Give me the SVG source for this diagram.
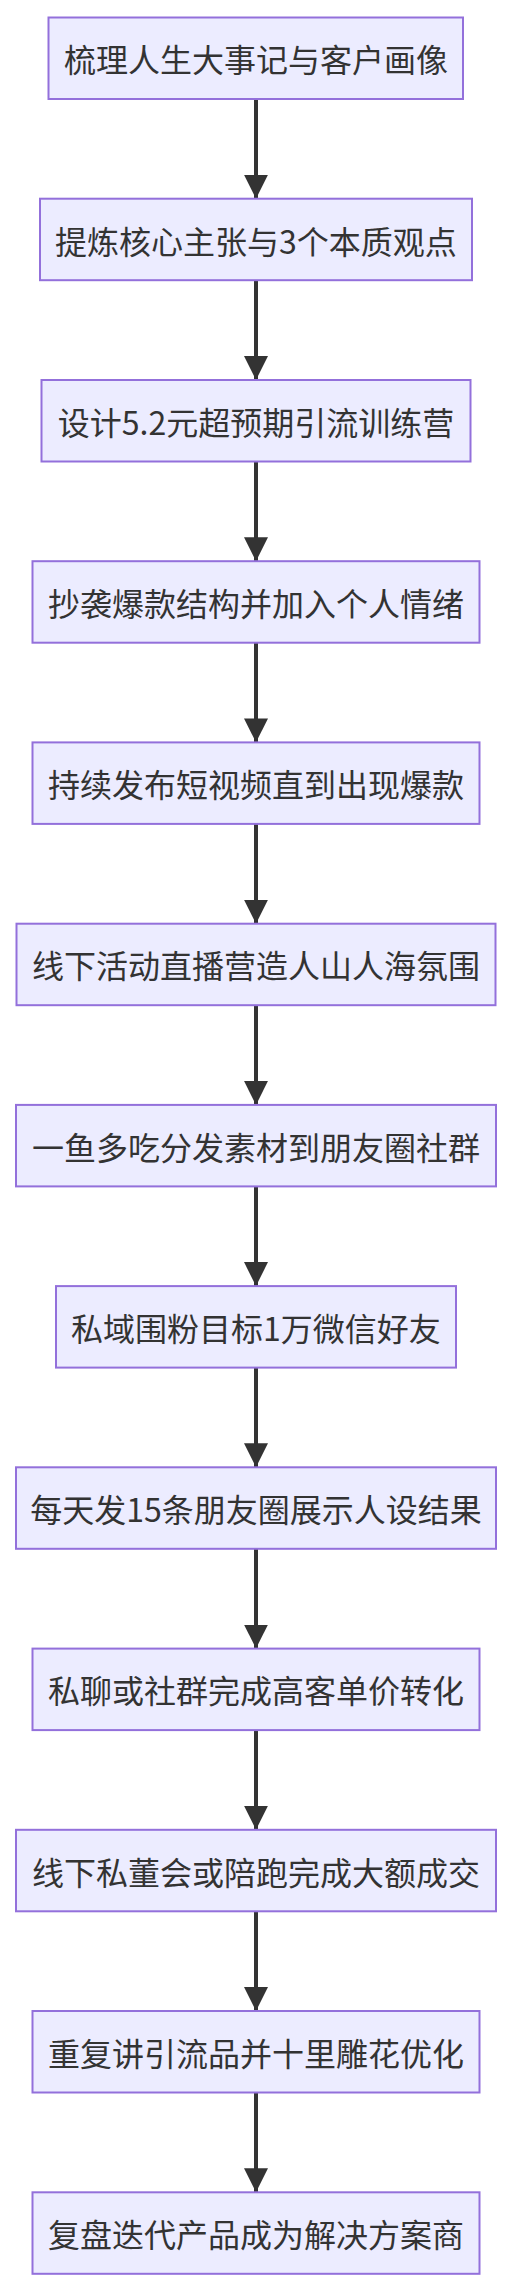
<svg xmlns="http://www.w3.org/2000/svg" width="512" height="2290" viewBox="0 0 512 2290">
<style>
.node rect{fill:#ECECFF;stroke:#9370DB;stroke-width:2}
.node text{font-family:"Noto Sans CJK SC","Noto Sans",sans-serif;font-size:32px;fill:#333;text-anchor:middle;dominant-baseline:central}
.edge{stroke:#333;stroke-width:4;fill:none}
</style>
<defs>
<marker id="arrow" markerUnits="userSpaceOnUse" markerWidth="24" markerHeight="24" refX="24" refY="12" orient="auto" viewBox="0 0 24 24">
<path d="M0,0 L24,12 L0,24 z" fill="#333"/>
</marker>
</defs>
<rect width="512" height="2290" fill="#fff"/>
<g id="edges">
<path class="edge" d="M256,99 L256,198.7" marker-end="url(#arrow)"/>
<path class="edge" d="M256,280.2 L256,380" marker-end="url(#arrow)"/>
<path class="edge" d="M256,461.5 L256,561.2" marker-end="url(#arrow)"/>
<path class="edge" d="M256,642.7 L256,742.4" marker-end="url(#arrow)"/>
<path class="edge" d="M256,823.9 L256,923.7" marker-end="url(#arrow)"/>
<path class="edge" d="M256,1005.2 L256,1104.9" marker-end="url(#arrow)"/>
<path class="edge" d="M256,1186.4 L256,1286.1" marker-end="url(#arrow)"/>
<path class="edge" d="M256,1367.6 L256,1467.3" marker-end="url(#arrow)"/>
<path class="edge" d="M256,1548.8 L256,1648.6" marker-end="url(#arrow)"/>
<path class="edge" d="M256,1730.1 L256,1829.8" marker-end="url(#arrow)"/>
<path class="edge" d="M256,1911.3 L256,2011" marker-end="url(#arrow)"/>
<path class="edge" d="M256,2092.5 L256,2192.3" marker-end="url(#arrow)"/>
</g>
<g id="n1" class="node"><rect x="48.5" y="17.5" width="414.5" height="81.5"/><text x="256" y="58.25">梳理人生大事记与客户画像</text></g>
<g id="n2" class="node"><rect x="40" y="198.7" width="432" height="81.5"/><text x="256" y="239.5">提炼核心主张与3个本质观点</text></g>
<g id="n3" class="node"><rect x="41.5" y="380" width="429" height="81.5"/><text x="256" y="420.7">设计5.2元超预期引流训练营</text></g>
<g id="n4" class="node"><rect x="32.5" y="561.2" width="447" height="81.5"/><text x="256" y="601.9">抄袭爆款结构并加入个人情绪</text></g>
<g id="n5" class="node"><rect x="32.5" y="742.4" width="447" height="81.5"/><text x="256" y="783.2">持续发布短视频直到出现爆款</text></g>
<g id="n6" class="node"><rect x="16.5" y="923.7" width="479" height="81.5"/><text x="256" y="964.4">线下活动直播营造人山人海氛围</text></g>
<g id="n7" class="node"><rect x="16" y="1104.9" width="480" height="81.5"/><text x="256" y="1145.6">一鱼多吃分发素材到朋友圈社群</text></g>
<g id="n8" class="node"><rect x="56" y="1286.1" width="400" height="81.5"/><text x="256" y="1326.9">私域围粉目标1万微信好友</text></g>
<g id="n9" class="node"><rect x="16" y="1467.3" width="480" height="81.5"/><text x="256" y="1508.1">每天发15条朋友圈展示人设结果</text></g>
<g id="n10" class="node"><rect x="32.5" y="1648.6" width="447" height="81.5"/><text x="256" y="1689.3">私聊或社群完成高客单价转化</text></g>
<g id="n11" class="node"><rect x="16" y="1829.8" width="480" height="81.5"/><text x="256" y="1870.6">线下私董会或陪跑完成大额成交</text></g>
<g id="n12" class="node"><rect x="32.5" y="2011" width="447" height="81.5"/><text x="256" y="2051.8">重复讲引流品并十里雕花优化</text></g>
<g id="n13" class="node"><rect x="32.5" y="2192.3" width="447" height="81.5"/><text x="256" y="2233">复盘迭代产品成为解决方案商</text></g>
</svg>
